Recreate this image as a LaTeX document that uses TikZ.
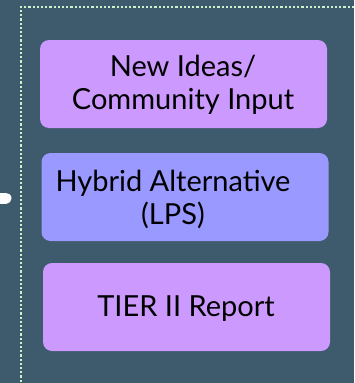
\documentclass[tikz,border=0pt]{standalone}
\usepackage{fontspec}
\setmainfont{Lato}
\usepackage{xcolor}
\usetikzlibrary{calc}
\definecolor{slate}{HTML}{3E5A6D}
\definecolor{mint}{HTML}{CCF2CC}
\definecolor{violet}{HTML}{CC99FF}
\definecolor{periw}{HTML}{9999FF}
\tikzset{
  frame/.style={draw=mint, line width=2.2pt, dotted},
  box/.style={rounded corners=9pt, minimum width=287pt, minimum height=88pt, inner sep=0pt},
  idea/.style={box, fill=violet},
  hybrid/.style={box, fill=periw},
  lab/.style={text=black, font=\fontsize{29}{33}\selectfont, align=center},
  stub/.style={draw=white, line width=11pt, line cap=round},
}
\begin{document}
\begin{tikzpicture}[x=1pt,y=-1pt]
  \fill[slate] (0,0) rectangle (354,383);
  \useasboundingbox (0,0) rectangle (354,383);
  % dotted frame
  \coordinate (FT) at (354,7);
  \coordinate (FC) at (21,7);
  \coordinate (FB) at (21,383);
  \draw[frame] (FT) -- (FC) -- (FB);
  % boxes
  \node[idea] (ideas) at (183.5,84) {};
  \node[hybrid] (hyb) at (185,197) {};
  \node[idea] (tier) at (186.5,307) {};
  \node[lab] (ideastxt) at (183,85) {New Ideas/\\Community Input};
  \node[lab] (hybtxt) at (173,199) {Hybrid Alternative\\(LPS)};
  \node[lab] (tiertxt) at (186,309) {TIER II Report};
  % stub from the left
  \coordinate (S0) at (-6,198);
  \coordinate (S1) at (6,198);
  \draw[stub] (S0) -- (S1);
\end{tikzpicture}
\end{document}
